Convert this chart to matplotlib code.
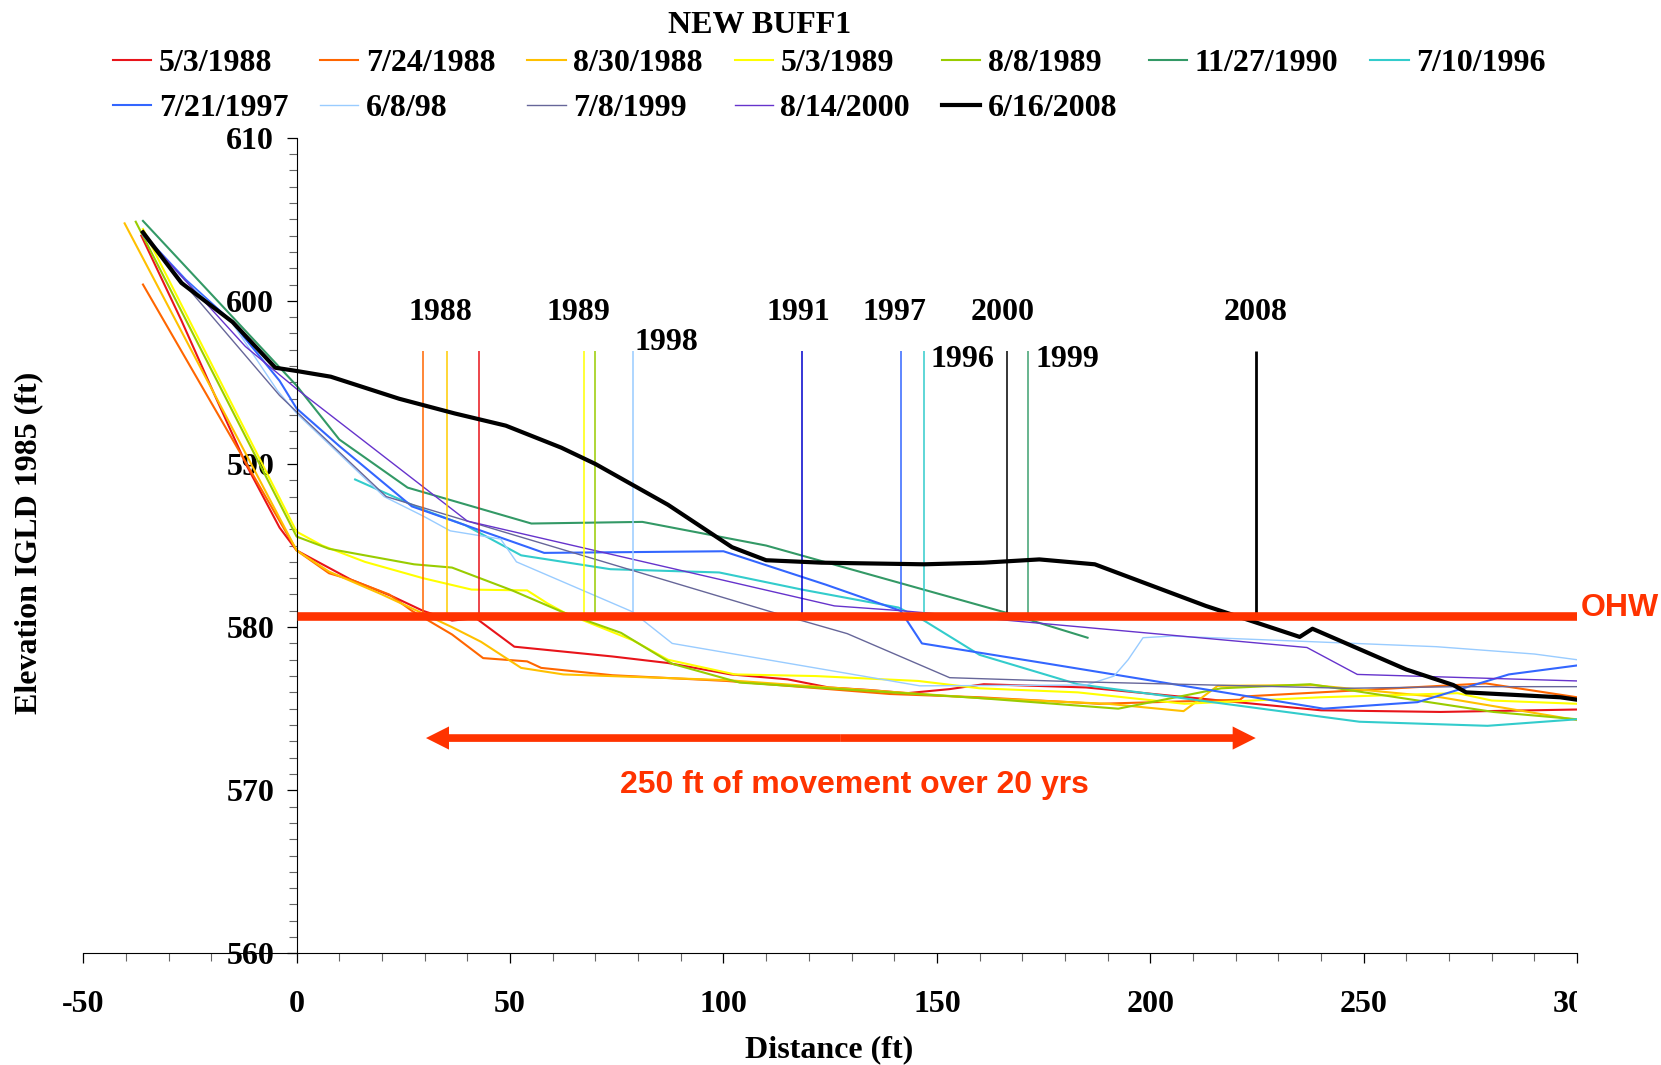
import matplotlib
matplotlib.use('Agg')
import matplotlib.pyplot as plt
from matplotlib.ticker import MultipleLocator
from matplotlib.transforms import Bbox, TransformedBbox

plt.rcParams['font.family'] = ['Liberation Serif', 'DejaVu Serif']
plt.rcParams['font.weight'] = 'bold'
plt.rcParams['axes.labelweight'] = 'bold'
plt.rcParams['axes.unicode_minus'] = False
plt.rcParams['font.size'] = 23

# --- profile data: distance (ft) / elevation IGLD 1985 (ft) ---
x_880503 = [-36.4, -27, -19.5, -11.7, -4, 0, 12.8, 22.3, 29.6, 36.4, 42, 51, 74, 87, 101.7, 115,
            124.7, 134, 143, 153, 161, 185, 240, 268, 300]
y_880503 = [604.0, 598.8, 594.4, 589.9, 586.1, 584.7, 582.9, 581.9, 581.0, 580.4, 580.55, 578.8, 578.2,
            577.8, 577.1, 576.8, 576.3, 576.15, 575.95, 576.2, 576.5, 576.3, 574.9, 574.8, 574.95]

x_880724 = [-36, 0, 7.6, 12.8, 21.7, 27, 29.6, 36.4, 43.7, 54, 57.3, 74, 100.7, 139, 160, 188, 221,
            222, 278.6, 300]
y_880724 = [601.0, 584.7, 583.3, 582.9, 582.0, 581.0, 580.6, 579.55, 578.1, 577.9, 577.5, 577.05, 576.7,
            575.9, 575.7, 575.3, 575.55, 575.75, 576.55, 575.7]

x_880830 = [-40.3, 0, 7.6, 20, 27, 36.4, 43.2, 52.6, 62.5, 100.7, 160, 190, 207.8, 215.8, 238, 268, 300]
y_880830 = [604.75, 584.7, 583.4, 582.0, 581.15, 580.0, 579.1, 577.5, 577.1, 576.75, 575.65, 575.3,
            574.85, 576.4, 576.45, 575.7, 574.3]

x_890503 = [-36, 0, 6, 16, 29.6, 41, 54, 58.8, 63, 78.7, 87, 102.7, 121.6, 145.6, 160, 183, 208, 240,
            272, 280, 300]
y_890503 = [604.4, 585.85, 585.0, 584.0, 583.0, 582.3, 582.25, 581.45, 580.85, 579.2, 578.0, 577.1,
            577.0, 576.7, 576.25, 576.0, 575.3, 575.7, 575.95, 575.5, 575.3]

x_890808 = [-37.7, 0, 7.6, 27.5, 36.4, 50.5, 62.5, 76, 88, 103.8, 160, 192.5, 216.6, 237.5, 280.4, 300]
y_890808 = [604.85, 585.55, 584.8, 583.85, 583.65, 582.25, 580.9, 579.65, 577.75, 576.6, 575.65, 575.0,
            576.25, 576.5, 574.8, 574.35]

x_901127 = [-36, 0, 10, 26, 55, 81, 110, 166, 185.3]
y_901127 = [604.9, 594.8, 591.5, 588.55, 586.35, 586.45, 585.0, 580.9, 579.35]

x_960710 = [13.7, 29.6, 39.5, 52.6, 73.5, 99, 118.4, 141, 147, 160, 183, 249, 279, 300]
y_960710 = [589.05, 587.2, 586.25, 584.4, 583.55, 583.35, 582.3, 581.2, 580.4, 578.3, 576.5, 574.2,
            573.95, 574.35]

x_970721 = [-36, -26, -15.5, -4, 0, 10, 27, 58, 100, 124, 141.5, 146.5, 175, 240.6, 262.6, 284, 300]
y_970721 = [604.1, 601.3, 598.8, 595.1, 593.4, 591.1, 587.4, 584.55, 584.65, 582.6, 581.0, 579.0, 577.8,
            575.0, 575.4, 577.1, 577.65]

x_980608 = [-36, -26, -15, -4.5, 0, 20.5, 29.7, 36, 47.8, 51.5, 78.6, 88, 146, 185, 191.5, 194.8, 198.3,
            205, 267, 290, 300]
y_980608 = [604.0, 601.2, 598.6, 594.5, 593.1, 588.0, 586.8, 585.9, 585.4, 584.0, 580.95, 579.0, 576.4,
            576.45, 577.0, 578.0, 579.35, 579.45, 578.8, 578.35, 578.0]

x_990708 = [-36, -4, 0, 21, 40, 111, 129, 153, 183, 246, 272, 300]
y_990708 = [604.0, 594.2, 593.2, 588.0, 586.5, 580.95, 579.6, 576.9, 576.65, 576.25, 576.35, 576.35]

x_000814 = [-36, -12, 0, 40, 126, 142, 236.7, 248.5, 300]
y_000814 = [604.1, 597.2, 594.6, 586.5, 581.3, 581.0, 578.75, 577.1, 576.7]

x_080616 = [-36, -27, -15, -5, 0, 8, 24, 37, 49, 62, 70, 87, 102, 110, 123, 147, 161, 174, 187, 213,
            235, 238, 260, 271, 274, 296, 300]
y_080616 = [604.2, 601.1, 598.7, 595.9, 595.7, 595.35, 594.0, 593.1, 592.35, 591.0, 590.0, 587.5, 584.9,
            584.1, 583.95, 583.85, 583.95, 584.15, 583.85, 581.3, 579.4, 579.9, 577.4, 576.45, 576.0,
            575.7, 575.55]

# shoreline position markers
mark_x = [29.6, 35.3, 42.7, 67.4, 70.0, 78.7, 118.4, 141.7, 147.0, 166.5, 171.4, 224.7]
mark_colors = ['#ff6600', '#ffcc00', '#e8141a', '#ffff00', '#99cc00', '#99ccff', '#0000cc',
               '#3366ff', '#33cccc', '#000000', '#3fa070', '#000000']
mark_widths = [1.1] * 11 + [2.0]
year_labels = ['1988', '1989', '1998', '1991', '1997', '2000', '1996', '1999', '2008']
year_x = [33.7, 66.0, 86.7, 117.6, 140.0, 165.3, 156.0, 180.5, 224.7]
year_y = [599.3, 599.3, 597.45, 599.3, 599.3, 599.3, 596.4, 596.4, 599.3]

ohw_elev = 580.7
mark_top = 596.95
arrow_x = [30.3, 224.7]
arrow_y = 573.2
red = '#ff3300'

series = [
    ('5/3/1988', x_880503, y_880503, '#e8141a', 1.5),
    ('7/24/1988', x_880724, y_880724, '#ff6600', 1.5),
    ('8/30/1988', x_880830, y_880830, '#ffc000', 1.5),
    ('5/3/1989', x_890503, y_890503, '#ffff00', 1.5),
    ('8/8/1989', x_890808, y_890808, '#99cc00', 1.5),
    ('11/27/1990', x_901127, y_901127, '#339966', 1.5),
    ('7/10/1996', x_960710, y_960710, '#33cccc', 1.5),
    ('7/21/1997', x_970721, y_970721, '#3366ff', 1.5),
    ('6/8/98', x_980608, y_980608, '#99ccff', 1.0),
    ('7/8/1999', x_990708, y_990708, '#666699', 1.0),
    ('8/14/2000', x_000814, y_000814, '#6633cc', 1.0),
    ('6/16/2008', x_080616, y_080616, '#000000', 3.0),
]

fig = plt.figure(figsize=(16.61, 10.65), dpi=100)
ax = fig.add_axes([0.0501, 0.1048, 0.8994, 0.7659])

lines = {}
for name, xs, ys, col, lw in series:
    z = 3 if col == '#000000' else 2
    lines[name], = ax.plot(xs, ys, color=col, lw=lw, label=name, zorder=z)

ax.vlines(mark_x, ohw_elev, mark_top, colors=mark_colors, linewidths=mark_widths, zorder=2.5)
for lab, tx, ty in zip(year_labels, year_x, year_y):
    ax.text(tx, ty, lab, ha='center', va='center', fontsize=23)

ax.plot([0, 300], [ohw_elev, ohw_elev], color=red, lw=6.2, solid_capstyle='butt', zorder=4)
ax.text(300.8, ohw_elev + 0.5, 'OHW', color=red, family='Liberation Sans', weight='bold',
        fontsize=23, ha='left', va='center', clip_on=False)

mid = (arrow_x[0] + arrow_x[1]) / 2
for end in arrow_x:
    ax.arrow(mid, arrow_y, end - mid, 0, width=0.47, head_width=1.42, head_length=5.4,
             length_includes_head=True, color=red, lw=0, zorder=4)
ax.text(130.6, 570.3, '250 ft of movement over 20 yrs', color=red, family='Liberation Sans',
        weight='bold', fontsize=23, ha='center', va='center')

ax.set_xlim(-50, 300)
ax.set_ylim(560, 610)
ax.spines['left'].set_position(('data', 0))
ax.spines['top'].set_visible(False)
ax.spines['right'].set_visible(False)
ax.set_xticks(range(-50, 301, 50))
ax.set_yticks(range(560, 611, 10))
ax.xaxis.set_minor_locator(MultipleLocator(10))
ax.yaxis.set_minor_locator(MultipleLocator(1))
ax.tick_params(which='major', direction='out', length=7.2, width=0.9, labelsize=23)
ax.tick_params(axis='y', which='major', pad=9)
ax.tick_params(axis='x', which='major', pad=19)
ax.tick_params(which='minor', direction='out', length=5.5, width=0.8, color='0.4')

ax.set_xlabel('Distance (ft)', fontsize=23, fontweight='bold')
ax.xaxis.set_label_coords(0.499, -0.1)
ax.set_ylabel('Elevation IGLD 1985 (ft)', fontsize=23, fontweight='bold')
ax.yaxis.set_label_coords(-0.027, 0.503)

# cut the last x tick label at the plot edge like the original
clip = TransformedBbox(Bbox([[0, 0], [0.9495, 1]]), fig.transFigure)
for lbl in ax.get_xticklabels():
    lbl.set_clip_box(clip)
    lbl.set_clip_on(True)

fig.text(0.4575, 0.9765, 'NEW BUFF1', ha='center', va='center', fontsize=23)

order = ['5/3/1988', '7/21/1997', '7/24/1988', '6/8/98', '8/30/1988', '7/8/1999',
         '5/3/1989', '8/14/2000', '8/8/1989', '6/16/2008', '11/27/1990', '7/10/1996']
fig.legend([lines[k] for k in order], order, ncol=7, loc='upper left',
           bbox_to_anchor=(0.068, 0.954), frameon=False, borderpad=0, borderaxespad=0,
           handlelength=1.2, handletextpad=0.23, columnspacing=1.0, labelspacing=0.47,
           fontsize=23)

fig.savefig('out.png', dpi=100)
